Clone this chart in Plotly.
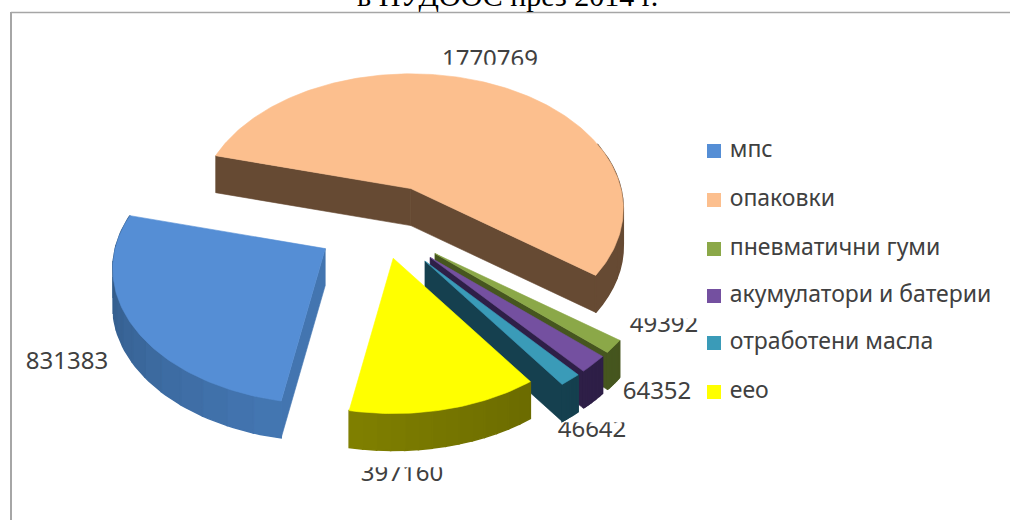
import math
import plotly.graph_objects as go

# ---- data ----
categories = ["мпс", "опаковки", "пневматични гуми", "акумулатори и батерии", "отработени масла", "еео"]
values = [831383, 1770769, 49392, 64352, 46642, 397160]
title_text = "в ПУДООС през 2014 г."

# ---- styles ----
top_colors = ["#558ED5", "#FCBF8E", "#8BA848", "#7450A0", "#3A9BB8", "#FFFF00"]
cut_colors = ["#4375B0", "#664A33", "#46561F", "#2E1F47", "#15404F", "#7F7F00"]
wall_from = ["#4477B3", "#664A33", "#46561F", "#2E1F47", "#15404F", "#6B6B00"]
wall_to = ["#2F5580", "#664A33", "#46561F", "#2E1F47", "#15404F", "#808000"]
pulls = [0.32, 0.315, 0.327, 0.33, 0.335, 0.25]
draw_order = [1, 2, 3, 4, 0, 5]
label_pos = [(67, 363), (490, 61), (664, 326), (657, 393), (592, 431), (402, 475)]
masks = [(430, 550, 65, 73), (625, 705, 305, 318), (550, 635, 410, 422),
         (350, 455, 455, 467), (350, 455, 483, 495)]
legend_x = 714
legend_y = [151, 200, 249, 296, 343, 392]
first_angle = 190.3
cx, cy, rx, ry, persp, depth = 382, 226, 210, 132, 0.15, 37
N_WALL = 14

fig = go.Figure()


def proj(t):
    p = 1 / (1 + persp * math.cos(t))
    return rx * math.sin(t) * p, -ry * math.cos(t) * p


def poly(xs, ys, color, lw=0.6):
    fig.add_trace(go.Scatter(x=xs + xs[:1], y=ys + ys[:1], mode="lines", fill="toself",
                             fillcolor=color, line=dict(color=color, width=lw),
                             showlegend=False, hoverinfo="skip"))


def mix(a, b, f):
    ca = [int(a[i:i + 2], 16) for i in (1, 3, 5)]
    cb = [int(b[i:i + 2], 16) for i in (1, 3, 5)]
    return "rgb(%d,%d,%d)" % tuple(round(u + (v - u) * f) for u, v in zip(ca, cb))


# value labels first, so the clipped bits can be masked as in the reference
for i, v in enumerate(values):
    fig.add_trace(go.Scatter(x=[label_pos[i][0]], y=[label_pos[i][1]], mode="text", text=[str(v)],
                             textposition="middle center", showlegend=False, hoverinfo="skip",
                             textfont=dict(family="Noto Sans", size=24, color="#404040")))
for x0, x1, y0, y1 in masks:
    poly([x0, x1, x1, x0], [y0, y0, y1, y1], "#FFFFFF")

# slices, computed from the values
total = sum(values)
spans = {}
a = first_angle
for i, v in enumerate(values):
    span = v / total * 360
    spans[i] = (math.radians(a), math.radians(a + span))
    a += span

for i in draw_order:
    t0, t1 = spans[i]
    mid = (t0 + t1) / 2
    vx = cx + pulls[i] * rx * math.sin(mid)
    vy = cy - pulls[i] * ry * math.cos(mid)
    steps = max(8, int(math.degrees(t1 - t0)))
    ts = [t0 + (t1 - t0) * k / steps for k in range(steps + 1)]
    arc = [proj(t) for t in ts]
    # cut faces: only those that are not hidden under the top face
    for t, sign in ((t0, -1), (t1, 1)):
        dx, dy = proj(t)
        if dx * sign > 0:
            poly([vx, vx + dx, vx + dx, vx], [vy, vy + dy, vy + dy + depth, vy + depth], cut_colors[i])
    # outer wall with a gradient, front part only
    for k in range(N_WALL):
        s0 = t0 + (t1 - t0) * k / N_WALL
        s1 = t0 + (t1 - t0) * (k + 1) / N_WALL
        if math.cos((s0 + s1) / 2) > 0.35:
            continue
        seg = [proj(s0 + (s1 - s0) * j / 4) for j in range(5)]
        xs = [vx + p[0] for p in seg] + [vx + p[0] for p in reversed(seg)]
        ys = [vy + p[1] for p in seg] + [vy + p[1] + depth for p in reversed(seg)]
        poly(xs, ys, mix(wall_from[i], wall_to[i], (k + 0.5) / N_WALL), lw=1.5)
    # top face
    poly([vx] + [vx + p[0] for p in arc], [vy] + [vy + p[1] for p in arc], top_colors[i])

# legend
for name, color, ly in zip(categories, top_colors, legend_y):
    fig.add_trace(go.Scatter(x=[legend_x], y=[ly], mode="markers+text", name=name, text=[" " + name],
                             textposition="middle right", showlegend=False, hoverinfo="name",
                             cliponaxis=False,
                             textfont=dict(family="Noto Sans", size=23, color="#404040"),
                             marker=dict(symbol="square", size=14, color=color)))

fig.add_annotation(x=507, y=13, xref="x", yref="y", yanchor="bottom", showarrow=False, borderpad=0,
                   text=title_text, font=dict(family="Liberation Serif", size=30, color="#000000"))

fig.update_layout(
    width=1010, height=520, margin=dict(l=0, r=0, t=0, b=0),
    paper_bgcolor="white", plot_bgcolor="white", showlegend=False,
    xaxis=dict(range=[0, 1010], visible=False),
    yaxis=dict(range=[520, 0], visible=False),
    shapes=[
        dict(type="line", xref="x", yref="y", x0=11, x1=1010, y0=12.5, y1=12.5, line=dict(color="#A6A6A6", width=1.5)),
        dict(type="line", xref="x", yref="y", x0=11, x1=11, y0=12, y1=520, line=dict(color="#A6A6A6", width=2)),
    ],
)

fig.write_html("out.html", config={"displayModeBar": False},
               post_script="document.body.style.margin='0';document.body.style.overflow='hidden';")
